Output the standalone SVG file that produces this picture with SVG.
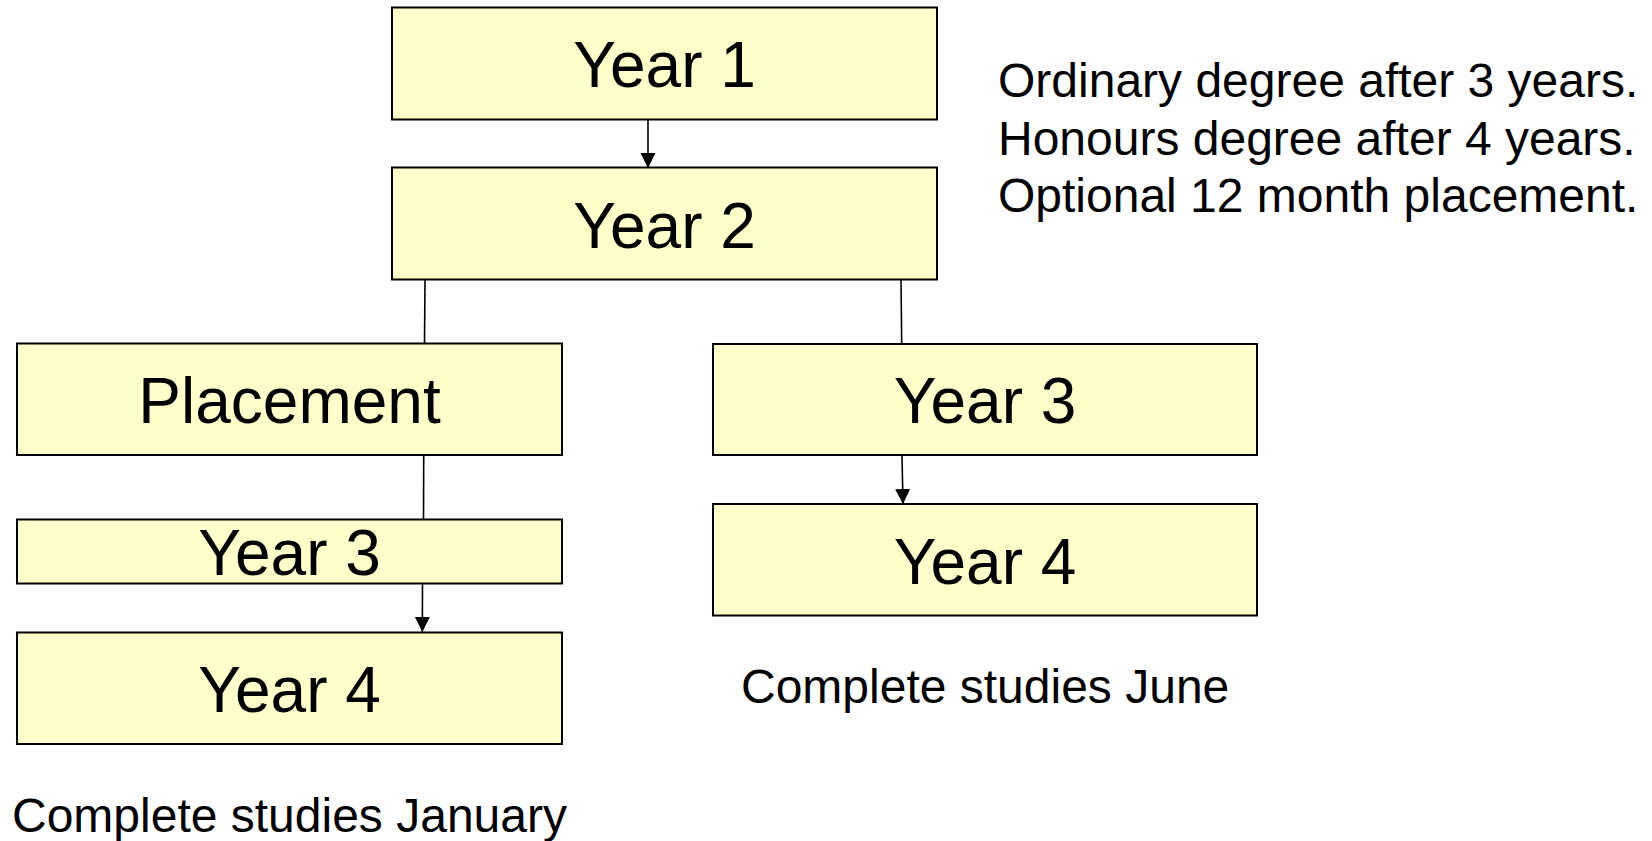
<svg xmlns="http://www.w3.org/2000/svg" width="1652" height="841" viewBox="0 0 1652 841">
<style>
.box{fill:#FFFFCC;stroke:#000;stroke-width:2}
.lbl{font-family:"Liberation Sans",Arial,sans-serif;font-size:64px;fill:#000;text-anchor:middle}
.note{font-family:"Liberation Sans",Arial,sans-serif;font-size:48px;fill:#000}
.con{stroke:#000;stroke-width:1.6;fill:none}
.arr{marker-end:url(#ah)}
</style>
<defs>
<marker id="ah" markerUnits="userSpaceOnUse" markerWidth="16" markerHeight="16" refX="15" refY="7.5" orient="auto">
<path d="M0,0 L15,7.5 L0,15 z" fill="#000"/>
</marker>
</defs>
<rect width="1652" height="841" fill="#fff"/>
<g id="connectors">
<line class="con arr" x1="648" y1="120" x2="648" y2="168"/>
<line class="con" x1="425" y1="280" x2="424.5" y2="343"/>
<line class="con" x1="901" y1="280" x2="901.7" y2="344"/>
<line class="con" x1="423.7" y1="456" x2="423.5" y2="519"/>
<line class="con arr" x1="422.5" y1="584" x2="422.3" y2="632"/>
<line class="con arr" x1="902" y1="456" x2="903" y2="504"/>
</g>
<g id="year1"><rect class="box" x="392" y="7.5" width="545" height="112"/><text class="lbl" x="664.5" y="87">Year 1</text></g>
<g id="year2"><rect class="box" x="392" y="167.5" width="545" height="112"/><text class="lbl" x="664.5" y="247.5">Year 2</text></g>
<g id="placement"><rect class="box" x="17" y="343.5" width="545" height="111.5"/><text class="lbl" x="289.5" y="423">Placement</text></g>
<g id="year3-left"><rect class="box" x="17" y="519.5" width="545" height="64"/><text class="lbl" x="289.5" y="575">Year 3</text></g>
<g id="year4-left"><rect class="box" x="17" y="632.5" width="545" height="111.5"/><text class="lbl" x="289.5" y="712">Year 4</text></g>
<g id="year3-right"><rect class="box" x="713" y="344" width="544" height="111"/><text class="lbl" x="985" y="423">Year 3</text></g>
<g id="year4-right"><rect class="box" x="713" y="504" width="544" height="111.5"/><text class="lbl" x="985" y="583.5">Year 4</text></g>
<g id="notes">
<text class="note" x="998" y="97">Ordinary degree after 3 years.</text>
<text class="note" x="998" y="154.5">Honours degree after 4 years.</text>
<text class="note" x="998" y="212">Optional 12 month placement.</text>
</g>
<text class="note" x="741" y="703">Complete studies June</text>
<text class="note" x="12" y="832">Complete studies January</text>
</svg>
